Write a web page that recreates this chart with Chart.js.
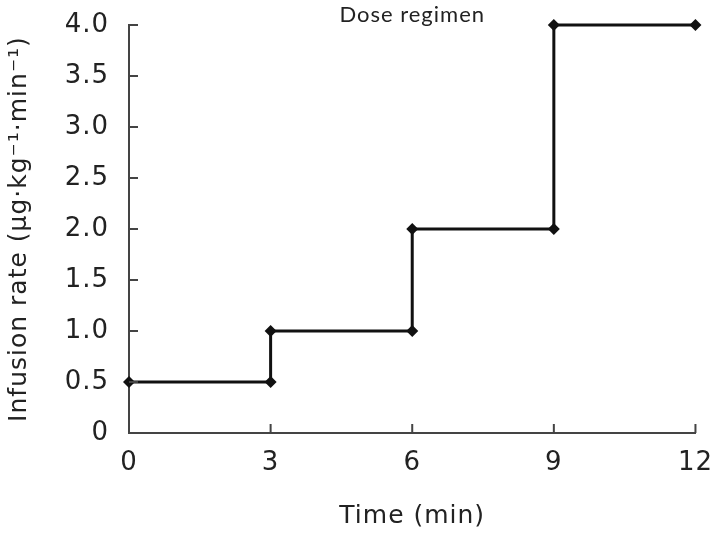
<!DOCTYPE html>
<html lang="en">
<head>
    <meta charset="UTF-8">
    <title>Dose regimen</title>
    <script src="https://cdn.jsdelivr.net/npm/chart.js"></script>
    <style>
        html, body { margin: 0; padding: 0; background: #fff; }
        #wrap { width: 714px; height: 533px; }
    </style>
</head>
<body>
    <div id="wrap"><canvas id="doseChart"></canvas></div>

    <script>
        // Data
        const timeMin = [0, 3, 3, 6, 6, 9, 9, 12];
        const infusionRate = [0.5, 0.5, 1.0, 1.0, 2.0, 2.0, 4.0, 4.0];
        const xTicks = [0, 3, 6, 9, 12];
        const yTicks = [0, 0.5, 1.0, 1.5, 2.0, 2.5, 3.0, 3.5, 4.0];

        const points = timeMin.map((t, i) => ({ x: t, y: infusionRate[i] }));

        // The original lettering is set a bit wide
        const spacing = {
            id: 'spacing',
            beforeLayout(chart) { chart.ctx.letterSpacing = '1px'; },
            beforeDraw(chart) { chart.ctx.letterSpacing = '1px'; }
        };

        // Small inward tick marks, placed with the scales
        const inwardTicks = {
            id: 'inwardTicks',
            afterDraw(chart) {
                const ctx = chart.ctx;
                const xs = chart.scales.x, ys = chart.scales.y;
                const len = 9;
                ctx.save();
                ctx.strokeStyle = '#444';
                ctx.lineWidth = 2;
                ctx.beginPath();
                xTicks.forEach(v => {
                    if (v === 0) return;
                    const px = xs.getPixelForValue(v);
                    ctx.moveTo(px, ys.bottom);
                    ctx.lineTo(px, ys.bottom - len);
                });
                yTicks.forEach(v => {
                    if (v === 0) return;
                    const py = ys.getPixelForValue(v);
                    ctx.moveTo(xs.left, py);
                    ctx.lineTo(xs.left + len, py);
                });
                ctx.stroke();
                ctx.restore();
            }
        };

        new Chart(document.getElementById('doseChart'), {
            type: 'line',
            data: {
                datasets: [{
                    data: points,
                    borderColor: '#111',
                    backgroundColor: '#111',
                    borderWidth: 3,
                    pointStyle: 'rectRot',
                    pointRadius: 6,
                    pointBorderWidth: 0,
                    tension: 0,
                    fill: false,
                    clip: false
                }]
            },
            options: {
                responsive: true,
                maintainAspectRatio: false,
                animation: false,
                layout: { padding: { top: 0, right: 9, bottom: 0, left: 0 } },
                plugins: {
                    legend: { display: false },
                    tooltip: { enabled: false },
                    title: {
                        display: true,
                        fullSize: false,
                        text: 'Dose regimen',
                        color: '#222',
                        font: { family: 'Lato', size: 22, weight: 'normal', lineHeight: 1 },
                        padding: { top: 2, bottom: -1 }
                    }
                },
                scales: {
                    x: {
                        type: 'linear',
                        min: 0,
                        max: 12,
                        afterBuildTicks: s => { s.ticks = xTicks.map(v => ({ value: v })); },
                        afterFit: s => { s.height = 100; },
                        grid: { display: false },
                        border: { display: true, color: '#444', width: 2 },
                        ticks: {
                            color: '#222',
                            padding: 1,
                            font: { family: 'DejaVu Sans', size: 26, lineHeight: 1.6 }
                        },
                        title: {
                            display: true,
                            text: 'Time (min)',
                            color: '#222',
                            padding: { top: 0, bottom: 2 },
                            font: { family: 'DejaVu Sans', size: 25 }
                        }
                    },
                    y: {
                        min: 0,
                        max: 4,
                        afterBuildTicks: s => { s.ticks = yTicks.map(v => ({ value: v })); },
                        afterFit: s => { s.width = 129; },
                        grid: { display: false },
                        border: { display: true, color: '#444', width: 2 },
                        ticks: {
                            color: '#222',
                            padding: 12,
                            font: { family: 'DejaVu Sans', size: 26, lineHeight: 1 },
                            callback: v => v === 0 ? '0' : v.toFixed(1)
                        },
                        title: {
                            display: true,
                            text: 'Infusion rate (μg·kg⁻¹·min⁻¹)',
                            color: '#222',
                            padding: { top: 4, bottom: 0 },
                            font: { family: 'DejaVu Sans', size: 25 }
                        }
                    }
                }
            },
            plugins: [spacing, inwardTicks]
        });
    </script>
</body>
</html>
